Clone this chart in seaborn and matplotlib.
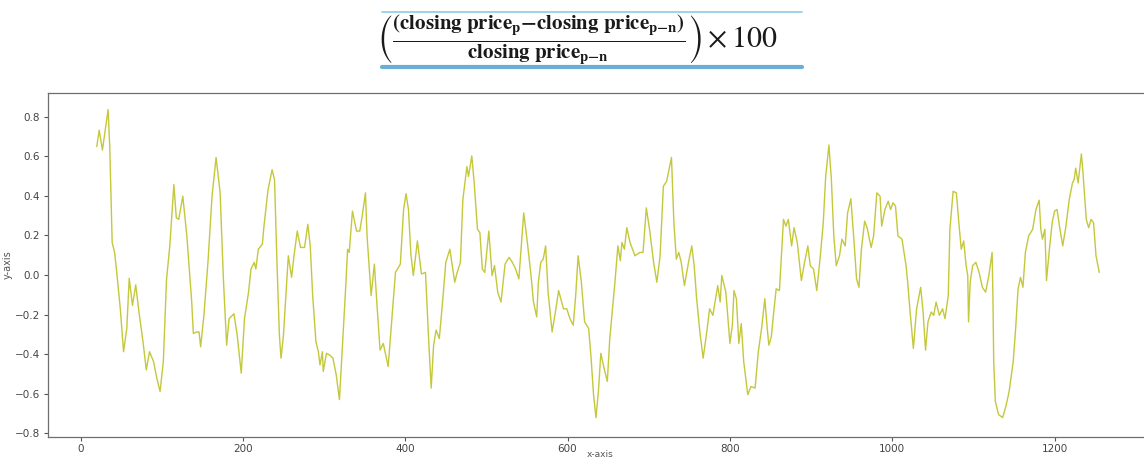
import matplotlib
matplotlib.use("Agg")
import matplotlib.pyplot as plt
from matplotlib.lines import Line2D
import pandas as pd
import seaborn as sns

# Rolling percentage change of closing price, by trading day
day = [
    20, 23, 27, 34, 36, 39, 42, 45, 49, 53, 57, 60, 64, 68, 72, 77, 81, 85, 90, 94,
    98, 102, 106, 110, 115, 118, 121, 126, 131, 137, 139, 143, 146, 148, 152, 157, 162, 167, 172, 176,
    180, 183, 189, 193, 198, 202, 207, 210, 214, 216, 219, 224, 226, 231, 236, 239, 242, 245, 247, 250,
    256, 260, 263, 267, 271, 276, 280, 283, 286, 290, 293, 295, 298, 299, 303, 307, 311, 315, 319, 323,
    327, 329, 331, 335, 340, 344, 347, 351, 353, 358, 362, 365, 369, 373, 379, 383, 388, 394, 398, 401,
    404, 407, 410, 415, 420,
    425, 429, 432, 435, 438, 442, 446, 450, 455, 461, 464, 468, 471, 476, 478, 482, 485, 489, 492, 495,
    498, 503, 507, 510, 514, 518, 523, 528, 532, 536, 540, 546, 550, 555, 558, 562, 564, 567, 570, 573,
    576, 581, 585, 589, 595, 599, 603, 607, 610, 613, 617, 621, 626, 629, 632, 635, 638, 641, 645, 649,
    652, 655, 658, 662, 665, 667, 670, 673, 677, 683, 689, 693, 697, 701, 706, 710, 714, 718, 722, 728,
    731, 734, 737, 740, 744, 749, 753, 756, 759, 763, 767, 771, 775, 779, 785, 788, 790, 795, 800, 803,
    805, 808, 811, 814, 817, 822, 826, 831, 835, 839,
    843, 846, 848, 851, 854, 857, 861, 866, 869, 872, 876, 879, 883, 888, 892, 896, 899, 903, 907, 911,
    915, 918, 922, 925, 928, 931, 935, 938, 942, 945, 949, 953, 956, 959, 962, 966, 969, 974, 977, 981,
    985, 987, 991, 995, 998, 1001, 1004, 1007, 1012, 1017, 1019, 1022, 1026, 1030, 1035, 1038, 1041, 1044, 1048, 1051,
    1054, 1058, 1062, 1065, 1069, 1071, 1075, 1079, 1082, 1085, 1088, 1091, 1093, 1094, 1096, 1099, 1103, 1107, 1111, 1115,
    1119, 1123, 1124, 1125, 1127, 1131, 1136, 1140, 1144, 1149, 1152, 1155, 1158, 1161, 1164, 1168, 1173, 1177, 1181, 1183,
    1185, 1188, 1190, 1194, 1197, 1200, 1203, 1206, 1210, 1214, 1218, 1222, 1224, 1226, 1229, 1233, 1235, 1239, 1242, 1245,
    1248, 1251, 1255,
]

pct_change = [
    0.649, 0.732, 0.632, 0.836, 0.649, 0.164, 0.114, -0.003, -0.171, -0.388, -0.271, -0.017, -0.154, -0.050, -0.187, -0.338, -0.480, -0.388, -0.438, -0.522,
    -0.589, -0.438, -0.020, 0.147, 0.457, 0.289, 0.281, 0.398, 0.197, -0.137, -0.296, -0.288, -0.288, -0.363, -0.204, 0.064, 0.398, 0.594, 0.415, -0.020,
    -0.355, -0.221, -0.196, -0.304, -0.497, -0.221, -0.087, 0.030, 0.064, 0.030, 0.130, 0.156, 0.247, 0.431, 0.532, 0.482, 0.064, -0.304, -0.421, -0.304,
    0.097, -0.012, 0.097, 0.222, 0.139, 0.139, 0.256, 0.147, -0.104, -0.338, -0.388, -0.455, -0.388, -0.488, -0.396, -0.405, -0.421, -0.505, -0.630, -0.338,
    -0.037, 0.130, 0.114, 0.323, 0.222, 0.222, 0.298, 0.415, 0.197, -0.104, 0.055, -0.137, -0.380, -0.346, -0.463, -0.254, 0.013, 0.055, 0.331, 0.411,
    0.331, 0.105, -0.003, 0.172, 0.005,
    0.013, -0.338, -0.572, -0.355, -0.279, -0.321, -0.137, 0.064, 0.130, -0.037, 0.013, 0.064, 0.381, 0.548, 0.498, 0.602, 0.465, 0.231, 0.214, 0.030,
    0.013, 0.222, -0.003, 0.047, -0.087, -0.137, 0.055, 0.089, 0.064, 0.030, -0.020, 0.314, 0.181, -0.003, -0.137, -0.212, -0.037, 0.064, 0.080, 0.147,
    -0.087, -0.288, -0.187, -0.079, -0.171, -0.171, -0.221, -0.254, -0.104, 0.097, -0.037, -0.237, -0.271, -0.421, -0.605, -0.722, -0.589, -0.396, -0.472, -0.538,
    -0.321, -0.187, -0.054, 0.147, 0.072, 0.164, 0.130, 0.239, 0.164, 0.097, 0.114, 0.114, 0.339, 0.231, 0.064, -0.037, 0.097, 0.448, 0.473, 0.594,
    0.264, 0.080, 0.114, 0.064, -0.054, 0.064, 0.147, 0.047, -0.120, -0.288, -0.421, -0.304, -0.171, -0.204, -0.054, -0.137, -0.003, -0.087, -0.346, -0.254,
    -0.079, -0.120, -0.346, -0.246, -0.438, -0.605, -0.564, -0.572, -0.388, -0.271,
    -0.120, -0.271, -0.355, -0.313, -0.187, -0.070, -0.079, 0.281, 0.247, 0.281, 0.147, 0.239, 0.164, -0.028, 0.064, 0.147, 0.047, 0.030, -0.079, 0.080,
    0.264, 0.498, 0.657, 0.482, 0.197, 0.047, 0.097, 0.181, 0.147, 0.314, 0.385, 0.164, -0.020, -0.062, 0.130, 0.272, 0.239, 0.139, 0.197, 0.415,
    0.398, 0.247, 0.331, 0.373, 0.331, 0.365, 0.348, 0.197, 0.181, 0.047, -0.037, -0.187, -0.371, -0.171, -0.062, -0.187, -0.380, -0.237, -0.187, -0.204,
    -0.137, -0.204, -0.171, -0.221, -0.104, 0.231, 0.423, 0.415, 0.264, 0.130, 0.172, 0.047, -0.003, -0.237, -0.037, 0.047, 0.064, 0.013, -0.062, -0.087,
    -0.003, 0.114, -0.104, -0.438, -0.639, -0.706, -0.721, -0.664, -0.589, -0.438, -0.271, -0.070, -0.012, -0.062, 0.114, 0.197, 0.231, 0.331, 0.378, 0.231,
    0.181, 0.231, -0.028, 0.147, 0.264, 0.323, 0.331, 0.247, 0.147, 0.247, 0.381, 0.465, 0.482, 0.540, 0.465, 0.612, 0.515, 0.281, 0.239, 0.281,
    0.264, 0.097, 0.013,
]

x_ticks = [0, 200, 400, 600, 800, 1000, 1200]
y_ticks = [-0.8, -0.6, -0.4, -0.2, 0.0, 0.2, 0.4, 0.6, 0.8]

df = pd.DataFrame({"day": day, "pct_change": pct_change})

sns.set_style("ticks", {"axes.edgecolor": "#6f6f6f"})
plt.rcParams["font.family"] = ["DejaVu Sans"]
plt.rcParams["mathtext.fontset"] = "stix"

fig = plt.figure(figsize=(11.44, 4.59), dpi=100)
ax = fig.add_axes([0.042, 0.048, 0.965, 0.749])

sns.lineplot(data=df, x="day", y="pct_change", ax=ax, color="#c4c83a",
             linewidth=1.0, sort=False)

ax.set_xlim(-40, 1320)
ax.set_ylim(-0.819, 0.919)
ax.set_xticks(x_ticks)
ax.set_yticks(y_ticks)
ax.set_xticklabels([str(t) for t in x_ticks])
ax.set_yticklabels([f"{t:.1f}".replace("-", "\u2212") for t in y_ticks])
ax.tick_params(axis="both", labelsize=7.5, colors="#555555", length=3, width=0.8,
               labelcolor="#444444", pad=3)
ax.tick_params(axis="x", pad=2)
for sp in ax.spines.values():
    sp.set_linewidth(0.9)
ax.set_xlabel("x-axis", fontsize=6.5, color="#555555", labelpad=-3)
ax.set_ylabel("y-axis", fontsize=7, color="#555555", labelpad=1)

# Formula banner above the chart
formula = (r"$\left(\frac{\mathbf{(closing\ price}_{\mathbf{p}}{\mathbf{-}}"
           r"\mathbf{closing\ price}_{\mathbf{p{-}n}}\mathbf{)}}"
           r"{\mathbf{closing\ price}_{\mathbf{p{-}n}}}\right)\times 100$")
fig.text(0.505, 0.913, formula, fontsize=21.5, ha="center", va="center", color="#1a1a1a")
fig.add_artist(Line2D([0.334, 0.701], [0.974, 0.974], transform=fig.transFigure,
                      color="#8ccbe0", linewidth=1.2))
fig.add_artist(Line2D([0.334, 0.701], [0.853, 0.853], transform=fig.transFigure,
                      color="#6aaed3", linewidth=3.0))

fig.savefig("out.png", dpi=100)
